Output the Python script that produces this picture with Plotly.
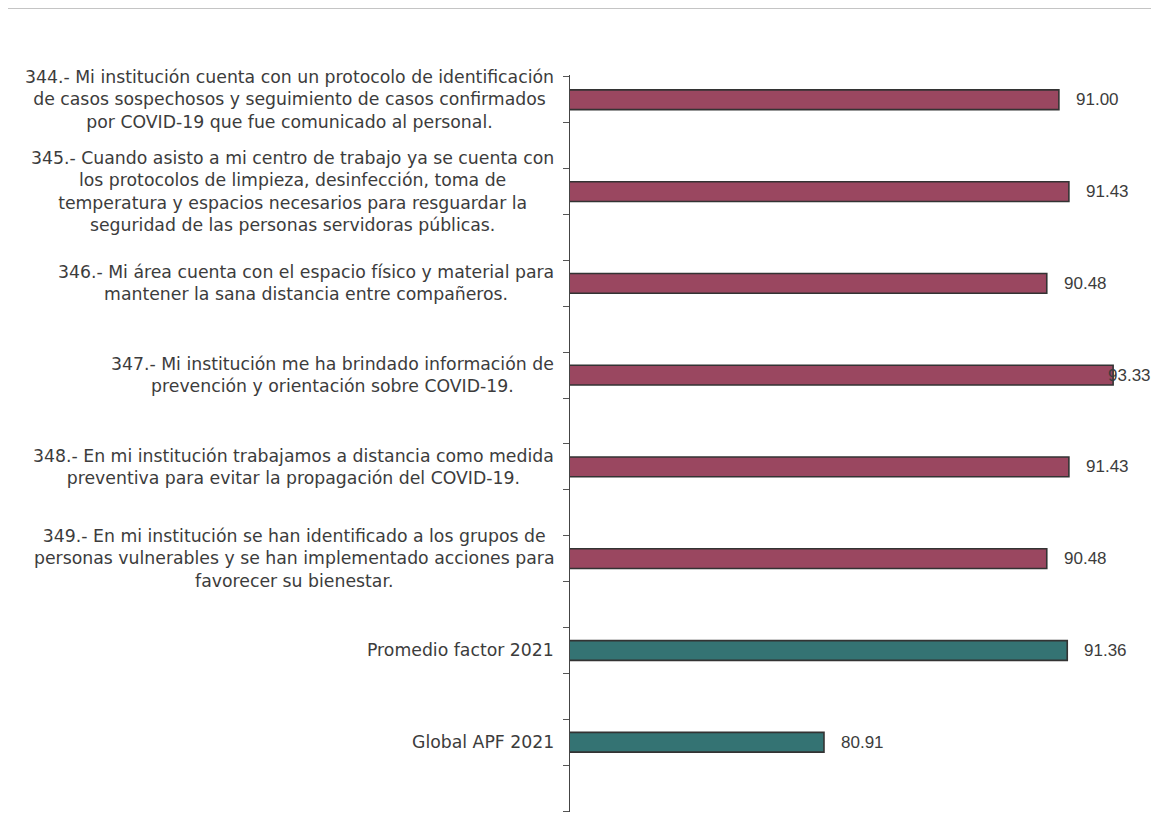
import numpy as np
import plotly.graph_objects as go

labels = [
    "344.- Mi institución cuenta con un protocolo de identificación<br>de casos sospechosos y seguimiento de casos confirmados<br>por COVID-19 que fue comunicado al personal.",
    "345.- Cuando asisto a mi centro de trabajo ya se cuenta con<br>los protocolos de limpieza, desinfección, toma de<br>temperatura y espacios necesarios para resguardar la<br>seguridad de las personas servidoras públicas.",
    "346.- Mi área cuenta con el espacio físico y material para<br>mantener la sana distancia entre compañeros.",
    "347.- Mi institución me ha brindado información de<br>prevención y orientación sobre COVID-19.",
    "348.- En mi institución trabajamos a distancia como medida<br>preventiva para evitar la propagación del COVID-19.",
    "349.- En mi institución se han identificado a los grupos de<br>personas vulnerables y se han implementado acciones para<br>favorecer su bienestar.",
    "Promedio factor 2021",
    "Global APF 2021",
]
values = [91.00, 91.43, 90.48, 93.33, 91.43, 90.48, 91.36, 80.91]
kinds = ["item"] * 6 + ["summary"] * 2

MAROON = "#9a4760"
TEAL = "#347373"
TEXT = "#3c3c3c"
LABEL_FONT = "DejaVu Sans, Liberation Sans, Arial, sans-serif"
VALUE_FONT = "Liberation Sans, Arial, sans-serif"

X_MIN, X_MAX = 70, 95
pos = list(range(len(values)))
colors = [MAROON if k == "item" else TEAL for k in kinds]

fig = go.Figure()
fig.add_trace(go.Bar(
    x=values, y=pos, base=0, orientation="h",
    marker=dict(color=colors, line=dict(color="#333333", width=1.6)),
    width=0.215, hoverinfo="skip", showlegend=False,
))

annotations = []
for i, (lab, v) in enumerate(zip(labels, values)):
    annotations.append(dict(
        x=0, xref="paper", y=i, yref="y", text=lab, showarrow=False,
        xanchor="right", yanchor="middle", align="center", xshift=-14,
        font=dict(family=LABEL_FONT, size=17.3, color=TEXT),
    ))
    # value label: to the right of the bar, kept inside the chart frame
    if v < X_MAX - 2.5:
        annotations.append(dict(
            x=v, xref="x", y=i, yref="y", text=f"{v:.2f}", showarrow=False,
            xanchor="left", yanchor="middle", xshift=15,
            font=dict(family=VALUE_FONT, size=17, color=TEXT),
        ))
    else:
        annotations.append(dict(
            x=1, xref="paper", y=i, yref="y", text=f"{v:.2f}", showarrow=False,
            xanchor="right", yanchor="middle", xshift=1,
            font=dict(family=VALUE_FONT, size=17, color=TEXT),
        ))

tick_pos = list(np.arange(-0.25, 7.8, 0.5))

fig.update_layout(
    width=1159, height=814,
    margin=dict(l=562, r=15, t=67, b=10),
    paper_bgcolor="white", plot_bgcolor="white",
    xaxis=dict(range=[X_MIN, X_MAX], visible=False),
    yaxis=dict(
        range=[7.76, -0.27], tickvals=tick_pos, showticklabels=False,
        ticks="outside", ticklen=6, tickcolor="#555", tickwidth=1,
        showline=True, linecolor="#444", linewidth=1.2,
        showgrid=False, zeroline=False,
    ),
    annotations=annotations,
    shapes=[dict(type="line", xref="paper", yref="paper",
                 x0=-562 / 582, x1=1.0, y0=1 + 67 / 737, y1=1 + 67 / 737,
                 line=dict(color="#c4c4c4", width=2))],
)

fig.write_html("out.html")
